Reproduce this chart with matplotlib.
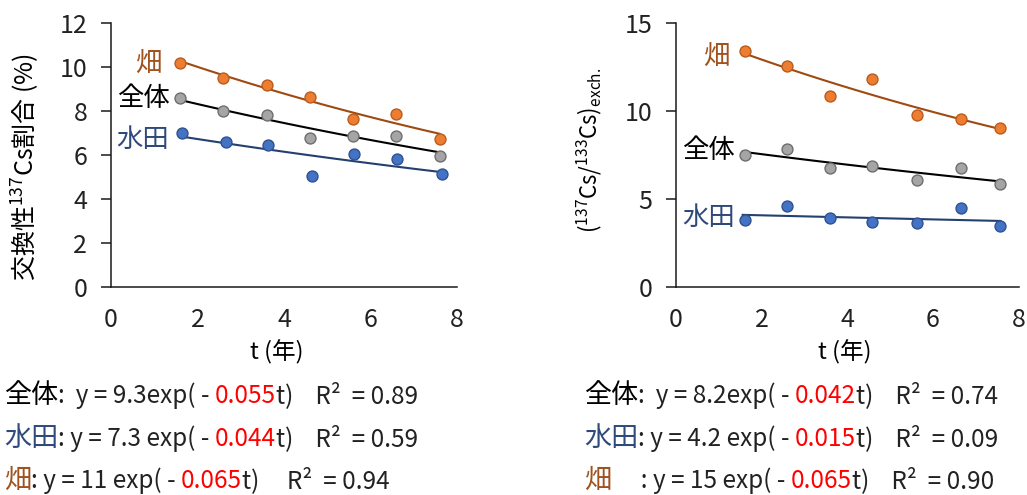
import matplotlib

matplotlib.use("Agg")

import matplotlib.pyplot as plt
import numpy as np

plt.rcParams["font.family"] = ["Noto Sans CJK JP", "DejaVu Sans"]
plt.rcParams["mathtext.fontset"] = "custom"
plt.rcParams["mathtext.rm"] = "Noto Sans CJK JP"
plt.rcParams["mathtext.it"] = "Noto Sans CJK JP"

# ---- data ----
t_years = [1.6, 2.6, 3.6, 4.6, 5.6, 6.6, 7.6]
t_paddy = [1.65, 2.65, 3.62, 4.65, 5.62, 6.62, 7.65]

ratio_upland = [10.18, 9.52, 9.18, 8.63, 7.66, 7.87, 6.71]
ratio_all = [8.58, 8.00, 7.81, 6.78, 6.88, 6.88, 5.94]
ratio_paddy = [6.99, 6.61, 6.47, 5.06, 6.06, 5.82, 5.13]

t_right = [1.61, 2.59, 3.60, 4.57, 5.62, 6.66, 7.57]
cs_upland = [13.42, 12.57, 10.86, 11.83, 9.78, 9.55, 9.06]
cs_all = [7.50, 7.86, 6.78, 6.89, 6.09, 6.78, 5.83]
cs_paddy = [3.84, 4.58, 3.91, 3.70, 3.63, 4.50, 3.46]

eq_left = [
    ("全体", ":  y = 9.3exp( - ", "0.055", "t)    R²  = 0.89"),
    ("水田", ": y = 7.3 exp( - ", "0.044", "t)    R²  = 0.59"),
    ("畑", ": y = 11 exp( - ", "0.065", "t)     R²  = 0.94"),
]
eq_right = [
    ("全体", ":  y = 8.2exp( - ", "0.042", "t)    R²  = 0.74"),
    ("水田", ": y = 4.2 exp( - ", "0.015", "t)    R²  = 0.09"),
    ("畑", "　 : y = 15 exp( - ", "0.065", "t)    R²  = 0.90"),
]

# ---- styles ----
styles = {
    "畑": dict(face="#ED7D31", edge="#B85C1E", line="#9E4A12", text="#A0521E"),
    "全体": dict(face="#A5A5A5", edge="#6E6E6E", line="#000000", text="#000000"),
    "水田": dict(face="#4472C4", edge="#2F528F", line="#24406E", text="#2F4A7A"),
}

fig = plt.figure(figsize=(10.27, 4.95), dpi=100)
ax_l = fig.add_axes([0.108, 0.420, 0.337, 0.5333])
ax_r = fig.add_axes([0.658, 0.420, 0.334, 0.5333])


def exp_fit_line(ax, t, y, color):
    b, log_a = np.polyfit(t, np.log(y), 1)
    tt = np.linspace(min(t) - 0.05, max(t), 50)
    ax.plot(tt, np.exp(log_a) * np.exp(b * tt), color=color, lw=1.5, zorder=2)


def draw_panel(ax, series, ylim, yticks, label_pos):
    for name, t, y in series:
        st = styles[name]
        exp_fit_line(ax, t, y, st["line"])
        ax.scatter(t, y, s=62, color=st["face"], edgecolor=st["edge"],
                   linewidth=1.0, zorder=3)
    for name, (x, y) in label_pos.items():
        ax.text(x, y, name, color=styles[name]["text"], fontsize=19,
                ha="center", va="center")
    ax.set_xlim(0, 8)
    ax.set_ylim(*ylim)
    ax.set_xticks([0, 2, 4, 6, 8])
    ax.set_yticks(yticks)
    ax.spines["top"].set_visible(False)
    ax.spines["right"].set_visible(False)
    for sp in ("left", "bottom"):
        ax.spines[sp].set_linewidth(1.1)
        ax.spines[sp].set_color("#1a1a1a")
    ax.tick_params(axis="y", length=7, width=1.1, pad=10, labelsize=18,
                   color="#1a1a1a", labelcolor="#222222")
    ax.tick_params(axis="x", length=0, pad=14, labelsize=18,
                   labelcolor="#222222")
    ax.set_xlabel("t (年)", fontsize=17)


draw_panel(
    ax_l,
    [("畑", t_years, ratio_upland), ("全体", t_years, ratio_all),
     ("水田", t_paddy, ratio_paddy)],
    (0, 12), [0, 2, 4, 6, 8, 10, 12],
    {"畑": (0.87, 10.18), "全体": (0.75, 8.59), "水田": (0.74, 6.72)},
)
ax_l.set_ylabel("交換性$^{137}$Cs割合 (%)", fontsize=18)
ax_l.yaxis.set_label_coords(-0.2, 0.455)

draw_panel(
    ax_r,
    [("畑", t_right, cs_upland), ("全体", t_right, cs_all),
     ("水田", t_right, cs_paddy)],
    (0, 15), [0, 5, 10, 15],
    {"畑": (0.94, 13.1), "全体": (0.77, 7.78), "水田": (0.77, 3.98)},
)
ax_r.set_ylabel("($^{137}$Cs/$^{133}$Cs)$_{\\mathrm{exch.}}$", fontsize=16)
ax_r.yaxis.set_label_coords(-0.21, 0.52)
ax_l.xaxis.set_label_coords(0.48, -0.2)
ax_r.xaxis.set_label_coords(0.493, -0.2)

# ---- equations below the panels ----
renderer = fig.canvas.get_renderer()


def draw_runs(x_px, y_px, runs):
    x = x_px / fig.bbox.width
    y = 1 - y_px / fig.bbox.height
    for text, color, size in runs:
        t = fig.text(x, y, text, color=color, fontsize=size, ha="left",
                     va="baseline")
        bb = t.get_window_extent(renderer)
        x += bb.width / fig.bbox.width


rows_y = [403, 446, 488]
for eqs, x0 in ((eq_left, 4), (eq_right, 584)):
    for (name, mid, coef, tail), yy in zip(eqs, rows_y):
        c = styles[name]["text"]
        draw_runs(x0, yy, [(name, c, 19.5), (mid, "#222222", 17.5),
                           (coef, "#FF0000", 17.5), (tail, "#222222", 17.5)])

fig.savefig("out.png", dpi=100)
